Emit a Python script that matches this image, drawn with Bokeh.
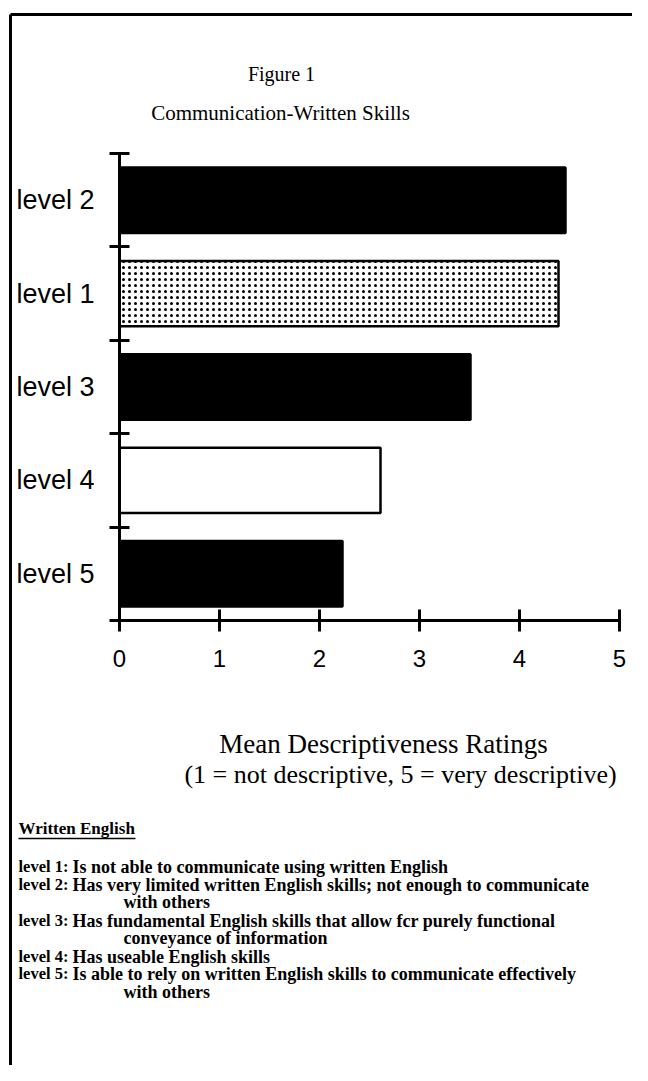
from bokeh.plotting import figure
from bokeh.models import Range1d, LinearAxis, FixedTicker, Label, ColumnDataSource
from bokeh.embed import file_html
from bokeh.resources import INLINE

# ---------------- data ----------------
categories = ["level 2", "level 1", "level 3", "level 4", "level 5"]   # top to bottom
ratings = [4.46, 4.39, 3.51, 2.61, 2.23]
fills = ["black", "white", "black", "white", "black"]
hatches = [" ", "dot", " ", " ", " "]
x_ticks = [0, 1, 2, 3, 4, 5]

figure_label = "Figure 1"
chart_title = "Communication-Written Skills"
axis_title = "Mean Descriptiveness Ratings"
axis_subtitle = "(1 = not descriptive, 5 = very descriptive)"
notes_heading = "Written English"
note_levels = ["level 1:", "level 2:", "level 3:", "level 4:", "level 5:"]
note_texts = [
    "Is not able to communicate using written English",
    "Has very limited written English skills; not enough to communicate",
    "Has fundamental English skills that allow fcr purely functional",
    "Has useable English skills",
    "Is able to rely on written English skills to communicate effectively",
]
note_continuations = ["", "with others", "conveyance of information", "", "with others"]

# ---------------- layout (canvas pixels) ----------------
W, H = 632, 1065
X0_PX, X_PER = 119, 100.0          # x = 0 at canvas px 119, 100 px per unit
Y0_PX, Y5_PX = 620, 153            # y = 0 / y = 5 canvas px
Y_PER = (Y0_PX - Y5_PX) / 5.0

x_range = Range1d(-X0_PX / X_PER, (W - X0_PX) / X_PER)
y_range = Range1d(-(H - Y0_PX) / Y_PER, 5 + Y5_PX / Y_PER)


def dx(px):
    return x_range.start + px / X_PER


def dy(py):
    return y_range.end - py / Y_PER


p = figure(width=W, height=H, x_range=x_range, y_range=y_range,
           output_backend="svg", toolbar_location=None, min_border=0,
           x_axis_location=None, y_axis_location=None)
for g in p.grid:
    g.visible = False
p.outline_line_color = None
p.background_fill_color = "white"
p.border_fill_color = "white"

n = len(categories)
centers = [n - 0.5 - i for i in range(n)]
bounds = [float(i) for i in range(n + 1)]

src = ColumnDataSource(dict(y=centers, v=ratings, fill=fills, hatch=hatches))
p.hbar(y="y", left=0, right="v", height=0.7, source=src,
       fill_color="fill", line_color="black", line_width=2.5,
       hatch_pattern="hatch", hatch_color="black", hatch_scale=6, hatch_weight=3.5)

# x axis
xaxis = LinearAxis(fixed_location=0, bounds=(0, 5), ticker=FixedTicker(ticks=x_ticks, minor_ticks=[]))
xaxis.axis_line_width = 3
xaxis.major_tick_line_width = 3
xaxis.major_tick_in = 11
xaxis.major_tick_out = 11
xaxis.major_label_standoff = 18
xaxis.major_label_text_font = "Liberation Sans"
xaxis.major_label_text_font_size = "24px"
xaxis.major_label_text_color = "black"
p.add_layout(xaxis, "below")

# y axis
yaxis = LinearAxis(fixed_location=0, bounds=(0, 5),
                   ticker=FixedTicker(ticks=centers, minor_ticks=bounds),
                   major_label_overrides={c: lab for c, lab in zip(centers, categories)})
yaxis.axis_line_width = 3
yaxis.major_tick_line_color = None
yaxis.major_tick_in = 0
yaxis.major_tick_out = 0
yaxis.minor_tick_line_width = 3
yaxis.minor_tick_in = 10
yaxis.minor_tick_out = 10
yaxis.major_label_standoff = 15
yaxis.major_label_text_font = "Liberation Sans"
yaxis.major_label_text_font_size = "27px"
yaxis.major_label_text_color = "black"
p.add_layout(yaxis, "left")

# border frame (top + left)
p.segment(x0=[dx(10), dx(10)], y0=[dy(14), dy(14)], x1=[dx(W + 10), dx(10)], y1=[dy(14), dy(H + 10)],
          line_color="black", line_width=3)

SERIF = "Liberation Serif"


def add_text(px, py, text, size, align="left", style="normal"):
    p.add_layout(Label(x=dx(px), y=dy(py), text=text, text_font=SERIF, text_font_size=size,
                       text_align=align, text_baseline="middle", text_color="black",
                       text_font_style=style))


add_text(281, 73, figure_label, "20px", "center")
add_text(280, 112, chart_title, "21px", "center")
add_text(383, 743, axis_title, "27px", "center")
add_text(400, 774, axis_subtitle, "26px", "center")

add_text(18, 828, notes_heading, "17px", "left", "bold")
p.segment(x0=[dx(18)], y0=[dy(838)], x1=[dx(135)], y1=[dy(838)], line_color="black", line_width=1.5)

row_y = [866, 884, 920, 956, 973]
cont_y = [None, 901, 937, None, 991]
for lev, txt, cont, ry, cy in zip(note_levels, note_texts, note_continuations, row_y, cont_y):
    add_text(18, ry, lev, "16.5px", "left", "bold")
    add_text(72, ry, txt, "18px", "left", "bold")
    if cont:
        add_text(123, cy, cont, "18px", "left", "bold")

open("out.html", "w").write(file_html(p, INLINE))
